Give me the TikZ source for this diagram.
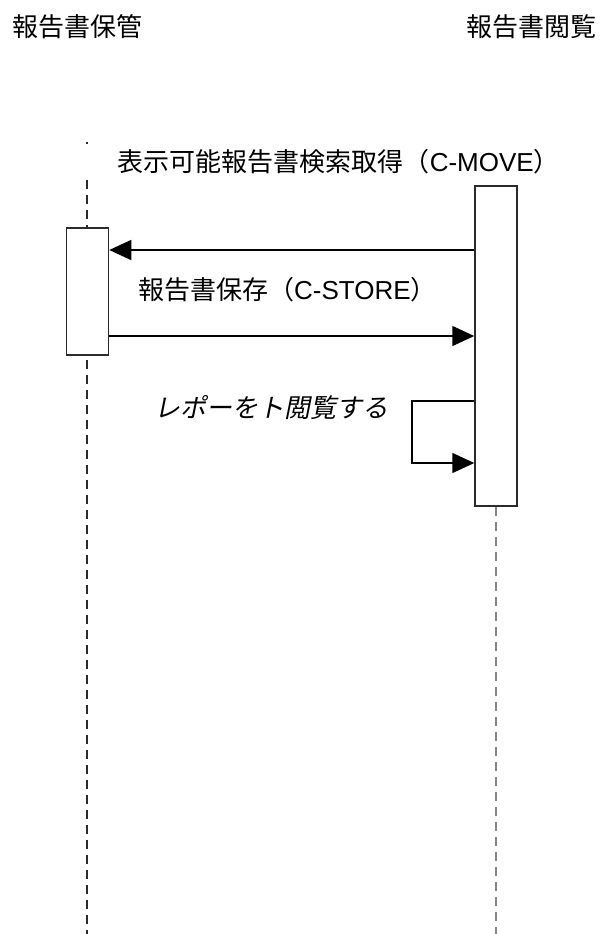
\documentclass[tikz,border=0pt]{standalone}
\usepackage{fontspec}
\setmainfont{Noto Sans CJK JP}
\newfontfamily\latinfont{Liberation Sans}
\newfontfamily\slantfont{Noto Sans CJK JP}[FakeSlant=0.2]
\usepackage{xcolor}
\usepackage{tikz}
\usetikzlibrary{arrows.meta}

\definecolor{linegray}{HTML}{2B2B2B}
\definecolor{lifegray}{HTML}{858585}

\begin{document}
\begin{tikzpicture}[
    x=1pt, y=-1pt,
    txt/.style={inner sep=0pt, font=\fontsize{26}{30}\selectfont},
    act/.style={draw=linegray, line width=1.5pt, fill=white, minimum width=42pt, inner sep=0pt},
    life/.style={line width=2.2pt, dash pattern=on 9pt off 6pt},
    msg/.style={draw=black, line width=1.5pt},
    >={Triangle[length=22pt, width=20pt]}
]
\useasboundingbox (0,0) rectangle (602,934);

% Headers
\node[txt, anchor=west] (keep) at (12,27) {報告書保管};
\node[txt, anchor=east] (view) at (597,27) {報告書閲覧};

% Lifeline of the archive
\coordinate (keeptop) at (87,142);
\coordinate (keepend) at (87,934);
\draw[life, draw=linegray, dash phase=7pt] (keeptop) -- (keepend);

% Activation boxes
\node[act, minimum height=127pt] (keepbox) at (87.5,291.5) {};
\node[act, minimum height=320pt] (viewbox) at (496,346) {};
\coordinate (viewend) at (496,934);
\draw[life, draw=lifegray] (viewbox.south) -- (viewend);

% Rows of the messages
\coordinate (getrow) at (0,250);
\coordinate (storerow) at (0,336);
\coordinate (looptop) at (412,401);
\coordinate (loopbot) at (412,463);

% Messages
\node[txt, fill=white, anchor=east, text width=475pt, align=right, minimum height=30pt, inner xsep=4pt] (move) at (564,162) {表示可能報告書検索取得（{\latinfont C-MOVE}）};
\draw[msg, ->] (viewbox.west |- getrow) -- (keepbox.east |- getrow);
\node[txt, anchor=west] (store) at (138,290) {報告書保存（{\latinfont C-STORE}）};
\draw[msg, ->] (keepbox.east |- storerow) -- (viewbox.west |- storerow);
\node[txt] (read) at (271,408) {\slantfont レポーをト閲覧する};
\draw[msg, ->] (viewbox.west |- looptop) -- (looptop) -- (loopbot) -- (viewbox.west |- loopbot);

\end{tikzpicture}
\end{document}
